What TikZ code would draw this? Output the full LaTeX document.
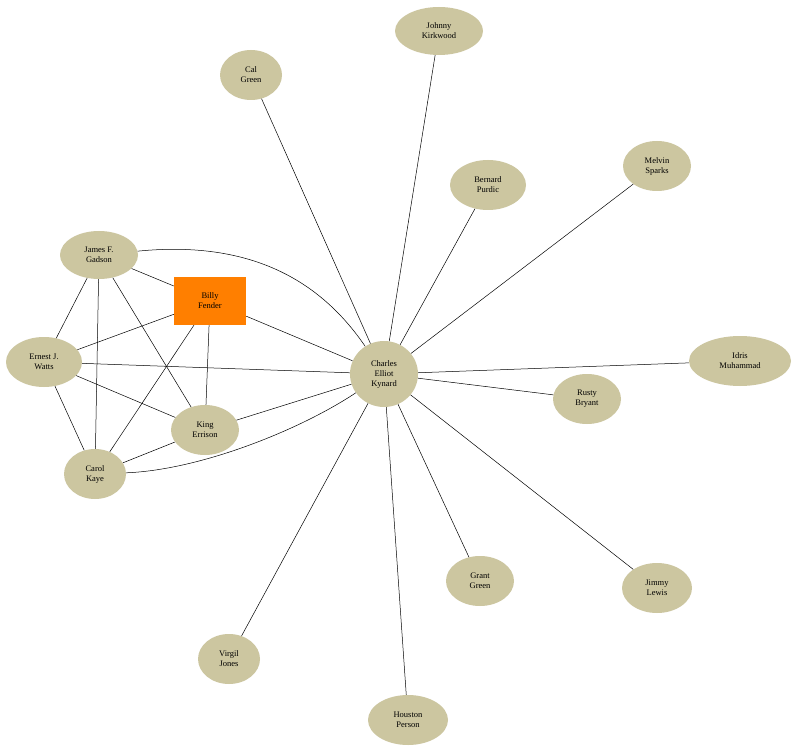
\documentclass[tikz,border=0pt]{standalone}
\usepackage{fontspec}
\setmainfont{Liberation Serif}
\usetikzlibrary{shapes.geometric}
\definecolor{nodebg}{HTML}{CCC6A0}
\definecolor{billy}{HTML}{FF7F00}
\tikzset{
  person/.style={ellipse,fill=nodebg,inner sep=0pt,align=center,font=\fontsize{8.5}{10}\selectfont},
  lead/.style={rectangle,fill=billy,inner sep=0pt,align=center,font=\fontsize{8.5}{10}\selectfont},
  link/.style={draw=black,line width=0.5pt}
}
\begin{document}
\begin{tikzpicture}[x=1pt,y=-1pt]
\useasboundingbox[fill=white] (0,0) rectangle (797,751);
\node[person,minimum width=88,minimum height=48] (jk) at (439,31) {Johnny\\Kirkwood};
\node[person,minimum width=62,minimum height=50] (cg) at (251,75) {Cal\\Green};
\node[person,minimum width=76,minimum height=50] (bp) at (488,185) {Bernard\\Purdic};
\node[person,minimum width=68,minimum height=50] (ms) at (657,166) {Melvin\\Sparks};
\node[person,minimum width=78,minimum height=48] (jg) at (99,255) {James F.\\Gadson};
\node[lead,minimum width=72,minimum height=48] (bf) at (210,301) {Billy\\Fender};
\node[person,minimum width=68,minimum height=66] (ck) at (384,374) {Charles\\Elliot\\Kynard};
\node[person,minimum width=102,minimum height=50] (im) at (740,361) {Idris\\Muhammad};
\node[person,minimum width=76,minimum height=50] (ew) at (44,362) {Ernest J.\\Watts};
\node[person,minimum width=68,minimum height=50] (rb) at (587,399) {Rusty\\Bryant};
\node[person,minimum width=68,minimum height=50] (ke) at (205,430) {King\\Errison};
\node[person,minimum width=62,minimum height=50] (ka) at (95,474) {Carol\\Kaye};
\node[person,minimum width=68,minimum height=50] (gg) at (480,581) {Grant\\Green};
\node[person,minimum width=70,minimum height=50] (jl) at (657,588) {Jimmy\\Lewis};
\node[person,minimum width=62,minimum height=50] (vj) at (229,659) {Virgil\\Jones};
\node[person,minimum width=80,minimum height=50] (hp) at (408,720) {Houston\\Person};
\begin{scope}[on background layer/.try]
\end{scope}
\foreach \t in {jk,cg,bp,ms,im,rb,gg,jl,vj,hp,bf,ew,ke}
  \draw[link] (ck) -- (\t);
\draw[link] (ck) .. controls (300,430) and (200,470) .. (ka);
\draw[link] (jg) .. controls (250,240) and (320,280) .. (ck);
\draw[link] (jg) -- (bf);
\draw[link] (jg) -- (ew);
\draw[link] (jg) -- (ka);
\draw[link] (jg) -- (ke);
\draw[link] (bf) -- (ew);
\draw[link] (bf) -- (ka);
\draw[link] (bf) -- (ke);
\draw[link] (ew) -- (ke);
\draw[link] (ew) -- (ka);
\draw[link] (ka) -- (ke);
\end{tikzpicture}
\end{document}
